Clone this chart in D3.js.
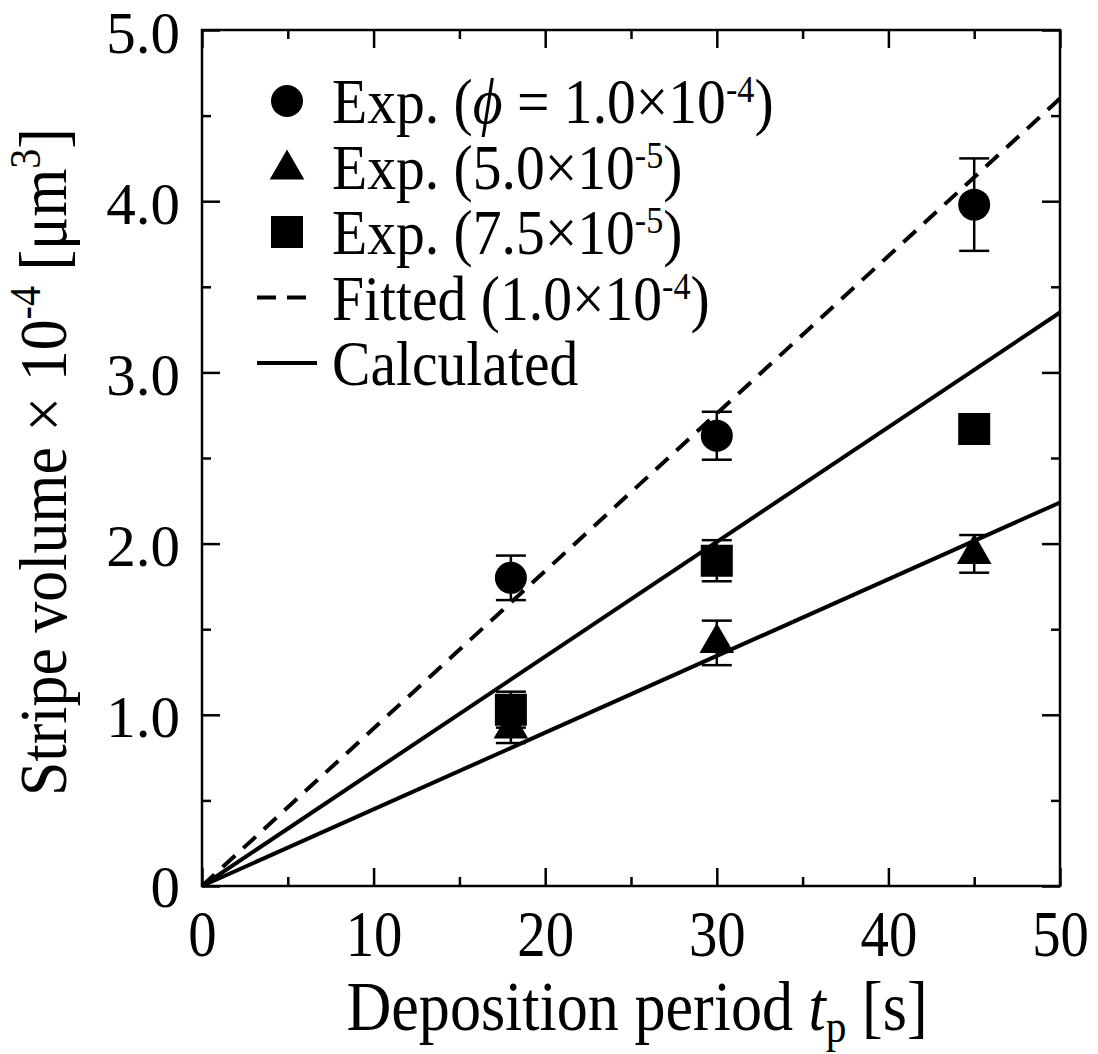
<!DOCTYPE html>
<html>
<head>
<meta charset="utf-8">
<script src="https://cdn.jsdelivr.net/npm/d3@7"></script>
<style>
  body { margin: 0; background: #fff; }
  text { font-family: "Liberation Serif", "Times New Roman", serif; fill: #000; }
</style>
</head>
<body>
<svg id="chart"></svg>
<script>
// data
const tSeries = [18, 30, 45];
const expHigh = [1.80, 2.63, 3.98];     // phi = 1.0e-4 (circles)
const expHighErr = [0.13, 0.14, 0.27];
const expLow = [0.92, 1.42, 1.94];      // 5.0e-5 (triangles)
const expLowErr = [0.085, 0.13, 0.11];
const expMid = [1.03, 1.90, 2.67];      // 7.5e-5 (squares)
const expMidErr = [0.105, 0.12, 0.08];

const lineT = [0, 50];
const fitted = [0, 4.6];
const calcUpper = [0, 3.35];
const calcLower = [0, 2.24];

const xMajor = [0, 10, 20, 30, 40, 50];
const xMinor = [5, 15, 25, 35, 45];
const yMajor = [0, 1, 2, 3, 4, 5];
const yMinor = [0.5, 1.5, 2.5, 3.5, 4.5];
const yTickLabels = ['0', '1.0', '2.0', '3.0', '4.0', '5.0'];

const width = 1098, height = 1054;
const margin = { top: 30, right: 38, bottom: 168, left: 202 };
const w = width - margin.left - margin.right;
const h = height - margin.top - margin.bottom;

const svg = d3.select('#chart')
  .attr('width', width)
  .attr('height', height);

svg.append('rect').attr('width', width).attr('height', height).attr('fill', '#fff');

const g = svg.append('g')
  .attr('transform', `translate(${margin.left},${margin.top})`);

const x = d3.scaleLinear().domain([0, 50]).range([0, w]);
const y = d3.scaleLinear().domain([0, 5]).range([h, 0]);

// ticks, all pointing inward
function addAxis(axis, tr) {
  const a = g.append('g').attr('transform', tr).call(axis);
  a.select('.domain').remove();
  a.selectAll('line').attr('stroke', '#000').attr('stroke-width', 2.5);
  return a;
}
const noLabel = () => '';

const bottomAx = addAxis(d3.axisBottom(x).tickValues(xMajor).tickSize(-18).tickFormat(d => d), `translate(0,${h})`);
addAxis(d3.axisBottom(x).tickValues(xMinor).tickSize(-9).tickFormat(noLabel), `translate(0,${h})`);
addAxis(d3.axisTop(x).tickValues(xMajor).tickSize(-18).tickFormat(noLabel), 'translate(0,0)');
addAxis(d3.axisTop(x).tickValues(xMinor).tickSize(-9).tickFormat(noLabel), 'translate(0,0)');
const leftAx = addAxis(d3.axisLeft(y).tickValues(yMajor).tickSize(-18).tickFormat((d, i) => yTickLabels[i]), 'translate(0,0)');
addAxis(d3.axisLeft(y).tickValues(yMinor).tickSize(-9).tickFormat(noLabel), 'translate(0,0)');
addAxis(d3.axisRight(y).tickValues(yMajor).tickSize(-18).tickFormat(noLabel), `translate(${w},0)`);
addAxis(d3.axisRight(y).tickValues(yMinor).tickSize(-9).tickFormat(noLabel), `translate(${w},0)`);

bottomAx.selectAll('text')
  .attr('font-family', null)
  .attr('font-size', 66)
  .attr('y', 70)
  .attr('dy', null)
  .attr('transform', 'scale(0.86,1)');

leftAx.selectAll('text')
  .attr('font-family', null)
  .attr('font-size', 59)
  .attr('x', -22)
  .attr('dy', null)
  .attr('y', d => d === 0 ? 20 : 22);

// frame
g.append('rect')
  .attr('width', w).attr('height', h)
  .attr('fill', 'none').attr('stroke', '#000').attr('stroke-width', 2.5);

// lines
const lineGen = arr => d3.line().x((d, i) => x(lineT[i])).y(d => y(d))(arr);
g.append('path').attr('d', lineGen(fitted))
  .attr('fill', 'none').attr('stroke', '#000').attr('stroke-width', 4)
  .attr('stroke-dasharray', '17,11');
g.append('path').attr('d', lineGen(calcUpper))
  .attr('fill', 'none').attr('stroke', '#000').attr('stroke-width', 4);
g.append('path').attr('d', lineGen(calcLower))
  .attr('fill', 'none').attr('stroke', '#000').attr('stroke-width', 4);

// experimental points
const triSize = 520;
const series = [
  { vals: expLow, err: expLowErr, sym: d3.symbolTriangle, size: triSize },
  { vals: expMid, err: expMidErr, sym: d3.symbolSquare, size: 1024 },
  { vals: expHigh, err: expHighErr, sym: d3.symbolCircle, size: 804 }
];

series.forEach(s => {
  const pts = tSeries.map((t, i) => ({ t: t, v: s.vals[i], e: s.err[i] }));
  const eb = g.append('g').attr('stroke', '#000').attr('stroke-width', 2.5);
  pts.forEach(p => {
    eb.append('line')
      .attr('x1', x(p.t)).attr('x2', x(p.t))
      .attr('y1', y(p.v - p.e)).attr('y2', y(p.v + p.e));
    [p.v - p.e, p.v + p.e].forEach(c => {
      eb.append('line')
        .attr('x1', x(p.t) - 15).attr('x2', x(p.t) + 15)
        .attr('y1', y(c)).attr('y2', y(c));
    });
  });
  g.selectAll(null)
    .data(pts)
    .enter()
    .append('path')
    .attr('d', d3.symbol().type(s.sym).size(s.size))
    .attr('transform', d => `translate(${x(d.t)},${y(d.v)})`)
    .attr('fill', '#000');
});

// legend
const legX = 287, legTextX = 332, legY0 = 101, legStep = 65.5;
const legend = svg.append('g');

function legendText(row, parts) {
  const t = legend.append('text')
    .attr('font-size', 64)
    .attr('transform', `translate(${legTextX},${legY0 + row * legStep + 22}) scale(0.9,1)`);
  parts.forEach(p => {
    const ts = t.append('tspan').text(p.s);
    if (p.italic) ts.attr('font-style', 'italic');
    if (p.sup) ts.attr('font-size', 38).attr('dy', -21);
    if (p.after) ts.attr('dy', 21);
  });
}

legend.append('path').attr('d', d3.symbol().type(d3.symbolCircle).size(804))
  .attr('transform', `translate(${legX},${legY0})`);
legendText(0, [{ s: 'Exp. (' }, { s: 'ϕ', italic: true }, { s: ' = 1.0×10' }, { s: '-4', sup: true }, { s: ')', after: true }]);

legend.append('path').attr('d', d3.symbol().type(d3.symbolTriangle).size(triSize))
  .attr('transform', `translate(${legX},${legY0 + legStep + 3})`);
legendText(1, [{ s: 'Exp. (5.0×10' }, { s: '-5', sup: true }, { s: ')', after: true }]);

legend.append('path').attr('d', d3.symbol().type(d3.symbolSquare).size(1024))
  .attr('transform', `translate(${legX},${legY0 + 2 * legStep})`);
legendText(2, [{ s: 'Exp. (7.5×10' }, { s: '-5', sup: true }, { s: ')', after: true }]);

legend.append('line')
  .attr('x1', 257).attr('x2', 317)
  .attr('y1', legY0 + 3 * legStep).attr('y2', legY0 + 3 * legStep)
  .attr('stroke', '#000').attr('stroke-width', 4)
  .attr('stroke-dasharray', '19,11');
legendText(3, [{ s: 'Fitted (1.0×10' }, { s: '-4', sup: true }, { s: ')', after: true }]);

legend.append('line')
  .attr('x1', 257).attr('x2', 317)
  .attr('y1', legY0 + 4 * legStep).attr('y2', legY0 + 4 * legStep)
  .attr('stroke', '#000').attr('stroke-width', 4);
legendText(4, [{ s: 'Calculated' }]);

// axis titles
const xTitle = svg.append('text')
  .attr('font-size', 69)
  .attr('text-anchor', 'middle')
  .attr('transform', 'translate(637,1030) scale(0.9,1)');
xTitle.append('tspan').text('Deposition period ');
xTitle.append('tspan').text('t').attr('font-style', 'italic');
xTitle.append('tspan').text('p').attr('font-size', 46).attr('dy', 12);
xTitle.append('tspan').text(' [s]').attr('dy', -12);

const yTitle = svg.append('text')
  .attr('font-size', 68)
  .attr('text-anchor', 'middle')
  .attr('transform', 'translate(66,462) rotate(-90) scale(0.91,1)');
yTitle.append('tspan').text('Stripe volume × 10');
yTitle.append('tspan').text('-4').attr('font-size', 44).attr('dy', -26);
yTitle.append('tspan').text(' [μm').attr('dy', 26);
yTitle.append('tspan').text('3').attr('font-size', 44).attr('dy', -26);
yTitle.append('tspan').text(']').attr('dy', 26);
</script>
</body>
</html>
